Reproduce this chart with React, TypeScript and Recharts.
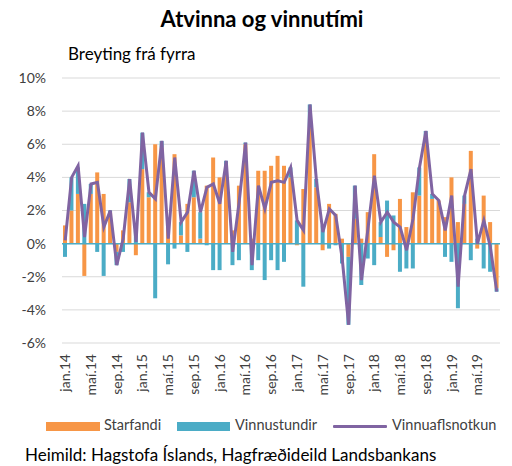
import {
  Bar,
  CartesianGrid,
  ComposedChart,
  Line,
  ReferenceLine,
  XAxis,
  YAxis,
} from "recharts";

const monthNames = ["jan", "feb", "mar", "apr", "maí", "jún", "júl", "ágú", "sep", "okt", "nóv", "des"];
const years = ["14", "15", "16", "17", "18", "19"];
const monthCount = 68; // jan.14 - ágú.19

const starfandi = [
  1.1, 2.0, 3.0, -1.95, 3.0, 4.3, 3.0, 1.9, -0.5, 0.8, 2.5, -0.7,
  4.5, 2.8, 6.0, 5.8, 1.5, 5.4, 0.5, 2.4, 2.8, 0.3, 3.5, 5.2,
  4.0, 4.5, 0.8, 3.5, 6.0, 0.3, 4.4, 4.4, 4.7, 5.3, 4.7, 4.0,
  -0.1, 3.3, 7.0, 3.4, -0.4, 2.4, 1.8, 0.3, -0.8, 1.5, 0.3, 1.9,
  5.4, 0.4, -0.8, -0.4, 2.7, 1.0, 3.1, 2.9, 6.5, 2.7, 2.6, 1.6,
  4.0, 1.3, 2.4, 5.6, -0.3, 2.9, 1.3, -2.7,
];

const vinnustundir = [
  -0.8, 2.0, 1.6, 2.4, 0.6, -0.5, -1.95, 0.1, -0.8, -0.5, 1.4, 0.8,
  2.2, 0.3, -3.3, 0.4, -1.25, -0.3, 0.8, -0.5, 1.6, 1.6, -0.1, -1.6,
  -1.6, 0.5, -1.3, -1.0, 0.1, -1.6, -1.0, -2.2, -1.0, -1.6, -1.1, 0.6,
  1.4, -2.6, 1.4, 0.5, 1.1, -0.3, -0.1, -1.2, -4.1, 2.0, -2.5, -0.9,
  -1.3, 0.9, 2.6, 1.7, -1.7, -1.5, -1.5, 1.7, 0.3, 0.3, 0, -0.8,
  -1.1, -3.9, 0.5, -1.0, 0.3, -1.5, -1.7, -0.2,
];

const vinnuaflsnotkun = [
  0.2, 4.0, 4.7, 0.4, 3.6, 3.7, 1.0, 2.0, -1.3, 0.3, 3.9, 0.1,
  6.7, 3.1, 2.7, 6.2, 0.3, 5.2, 1.3, 1.9, 4.4, 1.9, 3.4, 3.6,
  2.4, 5.0, -0.5, 2.5, 6.1, -1.3, 3.5, 2.1, 3.7, 3.8, 3.7, 4.6,
  1.4, 0.8, 8.4, 3.8, 0.7, 2.1, 1.7, -0.9, -4.9, 3.5, -2.2, 0.9,
  4.1, 1.3, 1.9, 1.3, 1.0, -0.4, 1.5, 4.6, 6.8, 3.0, 2.6, 0.8,
  2.9, -2.6, 2.9, 4.5, 0.0, 1.4, -0.2, -2.9,
];

const yTicks = [-6, -4, -2, 0, 2, 4, 6, 8, 10];

const months = Array.from({ length: monthCount }, (_, i) =>
  `${monthNames[i % 12]}.${years[Math.floor(i / 12)]}`
);

const data = months.map((m, i) => ({
  month: m,
  Starfandi: starfandi[i],
  Vinnustundir: vinnustundir[i],
  Vinnuaflsnotkun: vinnuaflsnotkun[i],
}));

const font = "Lato, 'Open Sans', sans-serif";
const textColor = "#404040";

function MonthTick({ x, y, payload }: any) {
  return (
    <g transform={`translate(${x},${y + 9})`}>
      <text
        transform="rotate(-90)"
        textAnchor="end"
        dy="0.35em"
        fontSize={14}
        fontFamily={font}
        fill={textColor}
      >
        {payload.value}
      </text>
    </g>
  );
}

export default function App() {
  return (
    <div
      style={{
        position: "absolute",
        left: 0,
        top: 0,
        width: 512,
        height: 466,
        background: "#fff",
        fontFamily: font,
      }}
    >
      <div
        style={{
          position: "absolute",
          top: 5,
          left: 0,
          width: 524,
          textAlign: "center",
          fontSize: 22,
          fontWeight: 700,
          color: "#000",
        }}
      >
        Atvinna og vinnutími
      </div>
      <div style={{ position: "absolute", top: 43, left: 68, fontSize: 17, color: "#000" }}>
        Breyting frá fyrra
      </div>

      <ComposedChart
        width={512}
        height={466}
        data={data}
        stackOffset="sign"
        barSize={4}
        margin={{ top: 78, right: 12, left: 12, bottom: 63 }}
      >
        <CartesianGrid vertical={false} stroke="#d9d9d9" />
        <XAxis
          dataKey="month"
          interval={3}
          height={60}
          axisLine={false}
          tickLine={false}
          tickSize={0}
          tick={<MonthTick />}
        />
        <YAxis
          domain={[-6, 10]}
          ticks={yTicks}
          width={50}
          axisLine={false}
          tickLine={false}
          tickSize={0}
          tickMargin={16}
          tickFormatter={(v) => `${v}%`}
          tick={{ fontSize: 14, fill: textColor, fontFamily: font }}
        />
        <Bar dataKey="Starfandi" stackId="s" fill="#F79646" isAnimationActive={false} />
        <Bar dataKey="Vinnustundir" stackId="s" fill="#4BACC6" isAnimationActive={false} />
        <ReferenceLine y={0} stroke="#4BACC6" strokeWidth={1.5} />
        <Line
          type="linear"
          dataKey="Vinnuaflsnotkun"
          stroke="#8064A2"
          strokeWidth={3}
          dot={false}
          isAnimationActive={false}
        />
      </ComposedChart>

      <div style={{ position: "absolute", left: 46, top: 422, width: 54, height: 9, background: "#F79646" }} />
      <div style={{ position: "absolute", left: 104, top: 416, fontSize: 14.5, color: textColor }}>Starfandi</div>
      <div style={{ position: "absolute", left: 177, top: 422, width: 53, height: 9, background: "#4BACC6" }} />
      <div style={{ position: "absolute", left: 235, top: 416, fontSize: 14.5, color: textColor }}>Vinnustundir</div>
      <div style={{ position: "absolute", left: 333, top: 425, width: 54, height: 3, background: "#8064A2", borderRadius: 1 }} />
      <div style={{ position: "absolute", left: 392, top: 416, fontSize: 14.5, color: textColor }}>Vinnuaflsnotkun</div>

      <div style={{ position: "absolute", left: 25, top: 444, fontSize: 17, color: "#000", whiteSpace: "nowrap" }}>
        Heimild: Hagstofa Íslands, Hagfræðideild Landsbankans
      </div>
    </div>
  );
}
